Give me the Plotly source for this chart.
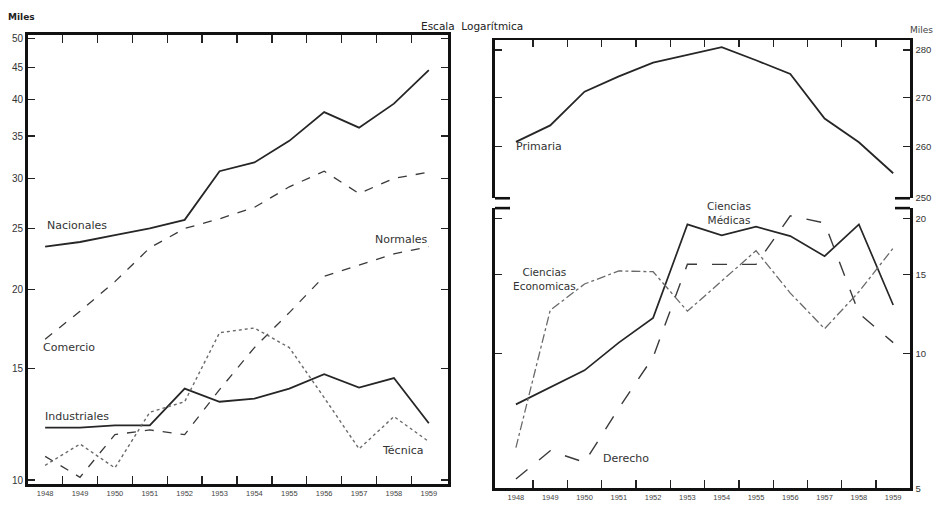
import numpy as np
import plotly.graph_objects as go

# ---------------- data (thousands, "Miles") ----------------
years = list(range(1948, 1960))
half_years = [y + 0.5 for y in range(1948, 1959)]

nacionales = [23.4, 23.8, 24.4, 25.0, 25.8, 30.8, 31.8, 34.4, 38.2, 36.1, 39.4, 44.5]
comercio = [16.7, 18.5, 20.6, 23.3, 25.0, 25.9, 27.0, 29.1, 30.8, 28.4, 30.0, 30.7]
normales = [10.9, 10.1, 11.8, 12.0, 11.8, 13.9, 16.2, 18.4, 21.0, 21.9, 22.8, 23.4]
industriales = [12.1, 12.1, 12.2, 12.2, 13.95, 13.3, 13.45, 13.95, 14.7, 14.0, 14.5, 12.3]
tecnica = [10.55, 11.4, 10.45, 12.8, 13.3, 17.1, 17.4, 16.2, 13.5, 11.2, 12.6, 11.5]

primaria = [261.0, 264.3, 271.2, 274.4, 277.3, 279.0, 280.6, 277.8, 274.9, 265.7, 260.9, 254.8]

medicas = [7.69, 8.39, 9.16, 10.56, 11.99, 19.38, 18.32, 19.16, 18.25, 16.46, 19.38, 12.81]
derecho = [5.24, 6.06, 5.71, 7.54, 9.80, 15.8, 15.78, 15.78, 20.26, 19.52, 12.28, 10.56]
economicas = [6.16, 12.47, 14.27, 15.26, 15.2, 12.41, 14.49, 16.94, 13.62, 11.34, 13.71, 17.16]

left_ticks = [10, 15, 20, 25, 30, 35, 40, 45, 50]
top_right_ticks = [250, 260, 270, 280]
bottom_right_ticks = [5, 10, 15, 20]

# ---------------- layout helpers ----------------
W, H = 936, 507
def px(x):
    return x / W
def py(y):
    return 1 - y / H

INK = "#262626"
GRAY = "#6a6a6a"
FONT = "DejaVu Sans"
NARROW = "Liberation Sans Narrow, Liberation Sans, Arial"

RL, RR = 495, 910   # right panel borders (px)

fig = go.Figure()

def add(y, xa, ya, dash, color=INK, width=1.6):
    fig.add_trace(go.Scatter(x=years, y=y, xaxis=xa, yaxis=ya, mode="lines",
                             line=dict(color=color, width=width, dash=dash),
                             hoverinfo="skip", showlegend=False))

# left panel
add(nacionales, "x", "y", "solid", INK, 1.8)
add(comercio, "x", "y", "dash", "#3a3a3a", 1.3)
add(normales, "x", "y", "dash", "#3a3a3a", 1.3)
add(industriales, "x", "y", "solid", INK, 1.8)
add(tecnica, "x", "y", "dot", GRAY, 1.4)
# right top
add(primaria, "x2", "y2", "solid", INK, 1.8)
# right bottom
add(medicas, "x3", "y3", "solid", INK, 1.7)
add(derecho, "x3", "y3", "longdash", "#3a3a3a", 1.4)
add(economicas, "x3", "y3", "dashdot", GRAY, 1.3)

frame = dict(showline=True, linecolor="#111", linewidth=2.6, showgrid=False,
             zeroline=False)

fig.update_layout(
    width=W, height=H,
    margin=dict(l=0, r=0, t=0, b=0),
    paper_bgcolor="white", plot_bgcolor="white",
    font=dict(family=FONT, color="#333"),
    xaxis=dict(domain=[px(27.7), px(448)], range=[1947.5, 1959.55], anchor="y",
               tickmode="array", tickvals=years, ticktext=[str(y) for y in years],
               ticks="", tickfont=dict(size=7.5, family=NARROW, color="#444"),
               minor=dict(tickmode="array", tickvals=half_years, ticks="inside",
                          ticklen=8, tickcolor="#222", tickwidth=1.3),
               mirror="ticks", **frame),
    yaxis=dict(domain=[py(489), py(33)], type="log", range=[0.9933, 1.7048],
               anchor="x", tickmode="array", tickvals=left_ticks,
               ticktext=[str(v) for v in left_ticks], ticks="inside", ticklen=7,
               tickcolor="#222", tickwidth=1.3, mirror="ticks",
               tickfont=dict(size=10, family=NARROW, color="#333"), **frame),
    xaxis2=dict(domain=[px(RL), px(RR)], range=[1947.39, 1959.49], anchor="y2",
                side="top", tickmode="array", tickvals=half_years,
                showticklabels=False, ticks="inside", ticklen=7, tickcolor="#222",
                tickwidth=1.3, **frame),
    yaxis2=dict(domain=[py(199), py(39)], type="log", range=[2.3979, 2.4503],
                anchor="x2", side="right", tickmode="array", tickvals=top_right_ticks,
                ticktext=[str(v) for v in top_right_ticks], ticks="inside",
                ticklen=7, tickcolor="#222", tickwidth=1.3, mirror="ticks",
                ticklabelstandoff=1,
                tickfont=dict(size=9.5, family=NARROW, color="#333"), **frame),
    xaxis3=dict(domain=[px(RL), px(RR)], range=[1947.39, 1959.49], anchor="y3",
                tickmode="array", tickvals=years, ticktext=[str(y) for y in years],
                ticks="", tickfont=dict(size=7.5, family=NARROW, color="#444"),
                minor=dict(tickmode="array", tickvals=half_years, ticks="inside",
                           ticklen=8, tickcolor="#222", tickwidth=1.3),
                **frame),
    yaxis3=dict(domain=[py(493), py(209)], type="log",
                range=[np.log10(5), 1.3237], anchor="x3", side="right",
                tickmode="array", tickvals=bottom_right_ticks,
                ticktext=[str(v) for v in bottom_right_ticks], ticks="inside",
                ticklen=7, tickcolor="#222", tickwidth=1.3, mirror="ticks",
                ticklabelstandoff=1,
                tickfont=dict(size=9.5, family=NARROW, color="#333"), **frame),
)

# broken-axis stubs between the two right panels
for (x0, x1, yy) in [(RL, RL + 15, 199), (RR - 15, RR, 199),
                     (RL, RL + 15, 209), (RR - 15, RR, 209)]:
    fig.add_shape(type="line", xref="paper", yref="paper",
                  x0=px(x0), x1=px(x1), y0=py(yy), y1=py(yy),
                  line=dict(color="#111", width=2.6))

def note(text, x, y, size=11, anchor="left", bold=False, color="#333"):
    fig.add_annotation(text=f"<b>{text}</b>" if bold else text,
                       x=px(x), y=py(y), xref="paper", yref="paper",
                       xanchor=anchor, yanchor="middle", showarrow=False,
                       font=dict(size=size, family=FONT, color=color))

note("Miles", 6, 15, size=9, bold=True, color="#222")
note("Escala  Logarítmica", 472, 24, size=10.5, anchor="center", color="#222")
note("Miles", 935, 28, size=9, anchor="right", color="#444")
note("Nacionales", 45, 227, size=11)
note("Normales", 373, 241, size=11)
note("Comercio", 41, 350, size=11)
note("Industriales", 43, 420, size=11)
note("Técnica", 380, 455, size=11)
note("Primaria", 514, 147, size=11)
note("Ciencias<br>Médicas", 729, 214, size=10.5, anchor="center")
note("Ciencias<br>Economicas", 511, 281, size=10.5)
note("Derecho", 601, 463, size=11)

fig.write_html("out.html",
               config={"displayModeBar": False, "staticPlot": True},
               post_script="document.body.style.margin='0';document.body.style.overflow='hidden';")
